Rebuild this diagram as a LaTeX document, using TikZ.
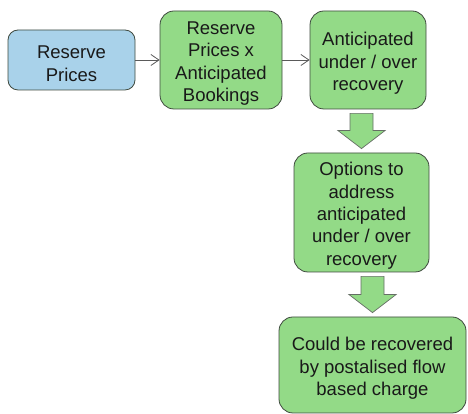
\documentclass[tikz,border=0pt]{standalone}
\usepackage{fontspec}
\setmainfont{Liberation Sans}
\usetikzlibrary{calc, arrows.meta}
\definecolor{rpblue}{HTML}{A9D2EA}
\definecolor{rpgreen}{HTML}{93DA87}
\definecolor{rpedge}{HTML}{3F4A3F}
\definecolor{rplink}{HTML}{5A5A5A}
\newcommand{\topstrut}{\rule{0pt}{20pt}}

\begin{document}
\begin{tikzpicture}[x=1pt, y=1pt,
    box/.style={draw=rpedge, line width=0.8pt, fill=rpgreen, rounded corners=14pt,
      align=center, inner sep=0pt, text=black!90,
      font=\fontsize{18.5}{22.3}\selectfont},
    link/.style={draw=rplink, line width=0.8pt, -{Straight Barb[length=8pt, width=11pt]}},
    blockarrow/.style={draw=rpedge!80, line width=0.7pt, fill=rpgreen}]
  \useasboundingbox (0,0) rectangle (468,414);
  % top row
  \node[box, fill=rpblue, rounded corners=10pt, minimum width=127, minimum height=60] (prices) at (71.5,354) {\topstrut Reserve\\Prices};
  \node[box, minimum width=122, minimum height=98] (bookings) at (221,354) {\topstrut Reserve\\Prices x\\Anticipated\\Bookings};
  \node[box, minimum width=116, minimum height=98] (antic) at (368,354) {\topstrut Anticipated\\under / over\\recovery};
  % down the right side
  \node[box, minimum width=135, minimum height=119] (options) at (361.5,201.5) {\topstrut Options to\\address\\anticipated\\under / over\\recovery};
  \node[box, minimum width=187, minimum height=96] (postal) at (372.5,49) {\topstrut Could be recovered\\by postalised flow\\based charge};
  \draw[link] (prices) -- (bookings);
  \draw[link] (bookings) -- (antic);
  \foreach \a/\b in {antic/options, options/postal}{
    \draw[blockarrow] let \p1=(\a.south), \p2=(\b.north) in
      (\x2-11.5pt,\y1-4pt) -- (\x2+11.5pt,\y1-4pt) -- (\x2+11.5pt,\y2+22pt)
      -- (\x2+23.5pt,\y2+22pt) -- (\x2,\y2+4pt) -- (\x2-23.5pt,\y2+22pt)
      -- (\x2-11.5pt,\y2+22pt) -- cycle;
  }
\end{tikzpicture}
\end{document}
